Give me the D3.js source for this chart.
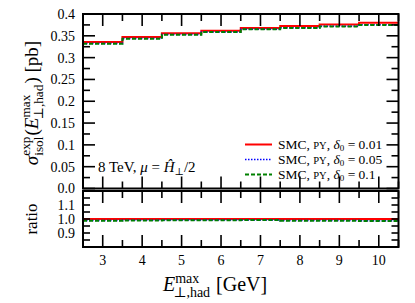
<!DOCTYPE html>
<html>
<head>
<meta charset="utf-8">
<script src="https://cdn.jsdelivr.net/npm/d3@7/dist/d3.min.js"></script>
<style>
  body { margin: 0; background: #fff; }
  text { font-family: "Liberation Serif", "DejaVu Serif", serif; fill: #000; white-space: pre; }
</style>
</head>
<body>
<div id="chart"></div>
<script>
// bin edges in E_T^max [GeV]
const binEdges = [2.5, 3.5, 4.5, 5.5, 6.5, 7.5, 8.5, 9.5, 10.5]
// sigma_isol^exp [pb] per bin
const sigmaD001 = [0.3356, 0.3470, 0.3556, 0.3617, 0.3678, 0.3724, 0.3762, 0.3800]
const sigmaD005 = [0.3322, 0.3438, 0.3529, 0.3590, 0.3651, 0.3684, 0.3721, 0.3752]
const sigmaD01  = [0.3317, 0.3433, 0.3525, 0.3586, 0.3648, 0.3678, 0.3716, 0.3747]
// ratio to delta0 = 0.01
const ratioD001 = [1.000, 1.000, 1.000, 1.000, 1.000, 1.000, 1.000, 1.000]
const ratioD005 = [0.990, 0.991, 0.992, 0.992, 0.993, 0.989, 0.989, 0.987]
const ratioD01  = [0.988, 0.989, 0.991, 0.991, 0.992, 0.988, 0.988, 0.986]

const xTickValues = [3, 4, 5, 6, 7, 8, 9, 10]
const yTickValues = [0, 0.05, 0.1, 0.15, 0.2, 0.25, 0.3, 0.35, 0.4]
const yTickLabels = ['0.0', '0.05', '0.1', '0.15', '0.2', '0.25', '0.3', '0.35', '0.4']
const ratioTickValues = [0.9, 1.0, 1.1]
const ratioTickLabels = ['0.9', '1.0', '1.1']

const series = [
  { name: '0.01', main: sigmaD001, ratio: ratioD001, color: '#ff0000', width: 2, dash: null },
  { name: '0.05', main: sigmaD005, ratio: ratioD005, color: '#0000ff', width: 1.5, dash: '1.5,1.5' },
  { name: '0.1', main: sigmaD01, ratio: ratioD01, color: '#008000', width: 2, dash: '4,2' },
]

const width = 415, height = 303
const left = 83, right = 398.5
const main = { top: 14, bottom: 188.5 }
const rat = { top: 191, bottom: 247 }

const svg = d3.select('#chart').append('svg')
  .attr('width', width)
  .attr('height', height)

const x = d3.scaleLinear().domain([2.5, 10.5]).range([left, right])
const y = d3.scaleLinear().domain([0, 0.4]).range([main.bottom, main.top])
const yr = d3.scaleLinear().domain([0.8, 1.2]).range([rat.bottom, rat.top])

const xMinor = d3.range(2.5, 10.51, 0.5).filter(v => v % 1 !== 0)
const MAJ = 12, MIN = 7

function stepPoints(vals) {
  return binEdges.map((e, i) => ({ x: e, v: vals[Math.min(i, vals.length - 1)] }))
}

function panel(yScale, top, bottom, yMajor, yMinor, yMajLen, yMinLen, key) {
  const g = svg.append('g')
  const clipId = 'clip-' + key
  svg.append('clipPath').attr('id', clipId)
    .append('rect').attr('x', left).attr('y', top).attr('width', right - left).attr('height', bottom - top)

  // curves
  const line = d3.line().x(d => x(d.x)).y(d => yScale(d.v)).curve(d3.curveStepAfter)
  series.forEach(s => {
    g.append('path')
      .datum(stepPoints(s[key]))
      .attr('clip-path', 'url(#' + clipId + ')')
      .attr('fill', 'none')
      .attr('stroke', s.color)
      .attr('stroke-width', s.width)
      .attr('stroke-dasharray', s.dash)
      .attr('d', line)
  })

  const tk = g.append('g').attr('stroke', '#000').attr('stroke-width', 1.6)
  // x ticks, top and bottom
  xTickValues.forEach(v => {
    tk.append('line').attr('x1', x(v)).attr('x2', x(v)).attr('y1', top).attr('y2', top + MAJ)
    tk.append('line').attr('x1', x(v)).attr('x2', x(v)).attr('y1', bottom).attr('y2', bottom - MAJ)
  })
  xMinor.forEach(v => {
    tk.append('line').attr('x1', x(v)).attr('x2', x(v)).attr('y1', top).attr('y2', top + MIN)
    tk.append('line').attr('x1', x(v)).attr('x2', x(v)).attr('y1', bottom).attr('y2', bottom - MIN)
  })
  // y ticks, left and right
  yMajor.forEach(v => {
    tk.append('line').attr('x1', left).attr('x2', left + yMajLen).attr('y1', yScale(v)).attr('y2', yScale(v))
    tk.append('line').attr('x1', right).attr('x2', right - yMajLen).attr('y1', yScale(v)).attr('y2', yScale(v))
  })
  yMinor.forEach(v => {
    tk.append('line').attr('x1', left).attr('x2', left + yMinLen).attr('y1', yScale(v)).attr('y2', yScale(v))
    tk.append('line').attr('x1', right).attr('x2', right - yMinLen).attr('y1', yScale(v)).attr('y2', yScale(v))
  })

  g.append('rect')
    .attr('x', left).attr('y', top)
    .attr('width', right - left).attr('height', bottom - top)
    .attr('fill', 'none').attr('stroke', '#000').attr('stroke-width', 2)
  return g
}

const yMinorMain = d3.range(0.025, 0.4, 0.05)
panel(y, main.top, main.bottom, yTickValues, yMinorMain, MAJ, MIN, 'main')
const ratioAll = d3.range(0.8, 1.201, 0.05).map(v => +v.toFixed(2))
panel(yr, rat.top, rat.bottom, ratioAll, [], 7, 7, 'ratio')

// tick labels
const fs = 14
svg.append('g').selectAll('text').data(yTickValues).join('text')
  .attr('x', left - 8).attr('y', d => y(d)).attr('dy', '0.35em')
  .attr('text-anchor', 'end').attr('font-size', fs)
  .text((d, i) => yTickLabels[i])
svg.append('g').selectAll('text').data(ratioTickValues).join('text')
  .attr('x', left - 8).attr('y', d => yr(d)).attr('dy', '0.35em')
  .attr('text-anchor', 'end').attr('font-size', fs)
  .text((d, i) => ratioTickLabels[i])
svg.append('g').selectAll('text').data(xTickValues).join('text')
  .attr('x', d => x(d)).attr('y', 265)
  .attr('text-anchor', 'middle').attr('font-size', fs)
  .text(d => d)

// helper: lay out a math-ish label from pieces
function mathLabel(parent, pieces, size) {
  const t = parent.append('g')
  let cx = 0
  pieces.forEach(p => {
    if (p.sup !== undefined || p.sub !== undefined) {
      let w = 0
      if (p.sup) {
        const s = t.append('text').attr('x', cx).attr('y', -size * 0.42).attr('font-size', size * 0.7).text(p.sup)
        w = Math.max(w, s.node().getComputedTextLength())
      }
      if (p.sub) {
        const s = t.append('text').attr('x', cx + (p.subShift || 0)).attr('y', size * 0.28).attr('font-size', size * 0.7).text(p.sub)
        w = Math.max(w, s.node().getComputedTextLength() + (p.subShift || 0))
      }
      cx += w + 1
    } else {
      const s = t.append('text').attr('x', cx).attr('y', 0).attr('font-size', p.size || size)
        .attr('font-style', p.italic ? 'italic' : null).text(p.t)
      cx += s.node().getComputedTextLength()
    }
  })
  return { g: t, w: cx }
}

// y label main panel
{
  const holder = svg.append('g')
  const lab = mathLabel(holder, [
    { t: 'σ', italic: true },
    { sup: 'exp', sub: 'isol' },
    { t: '(' },
    { t: 'E', italic: true },
    { sup: 'max', sub: '⊥,had', subShift: -2 },
    { t: ') [pb]' },
  ], 19)
  const cy = 103
  holder.attr('transform', `translate(38,${cy}) rotate(-90) translate(${-lab.w / 2},0)`)
}

// ratio label
svg.append('text')
  .attr('transform', `translate(37,${(rat.top + rat.bottom) / 2}) rotate(-90)`)
  .attr('text-anchor', 'middle').attr('font-size', 17)
  .text('ratio')

// x label
{
  const holder = svg.append('g')
  mathLabel(holder, [
    { t: 'E', italic: true },
    { sup: 'max', sub: '⊥,had', subShift: -2 },
    { t: ' [GeV]' },
  ], 20)
  holder.attr('transform', `translate(163,291)`)
}

// legend
const legX = 245, legY = [144.5, 159.5, 174.5]
series.forEach((s, i) => {
  const yy = legY[i]
  svg.append('line')
    .attr('x1', legX).attr('x2', legX + 27).attr('y1', yy).attr('y2', yy)
    .attr('stroke', s.color).attr('stroke-width', s.width).attr('stroke-dasharray', s.dash)
  const t = svg.append('text').attr('x', legX + 33).attr('y', yy).attr('dy', '0.33em').attr('font-size', 13.5)
  t.append('tspan').text('SMC, ')
  t.append('tspan').attr('font-size', 10.5).text('PY')
  t.append('tspan').text(', ')
  t.append('tspan').attr('font-style', 'italic').text('δ')
  t.append('tspan').attr('font-size', 9).attr('dy', 2.5).text('0')
  t.append('tspan').attr('dy', -2.5).text(' = ' + s.name)
})

// annotation
{
  const t = svg.append('text').attr('x', 98).attr('y', 172).attr('font-size', 15)
  t.append('tspan').text('8 TeV, ')
  t.append('tspan').attr('font-style', 'italic').text('μ')
  t.append('tspan').text(' = ')
  t.append('tspan').attr('font-style', 'italic').text('Ĥ')
  t.append('tspan').attr('font-size', 10).attr('dy', 3).text('⊥')
  t.append('tspan').attr('dy', -3).text('/2')
}
</script>
</body>
</html>
